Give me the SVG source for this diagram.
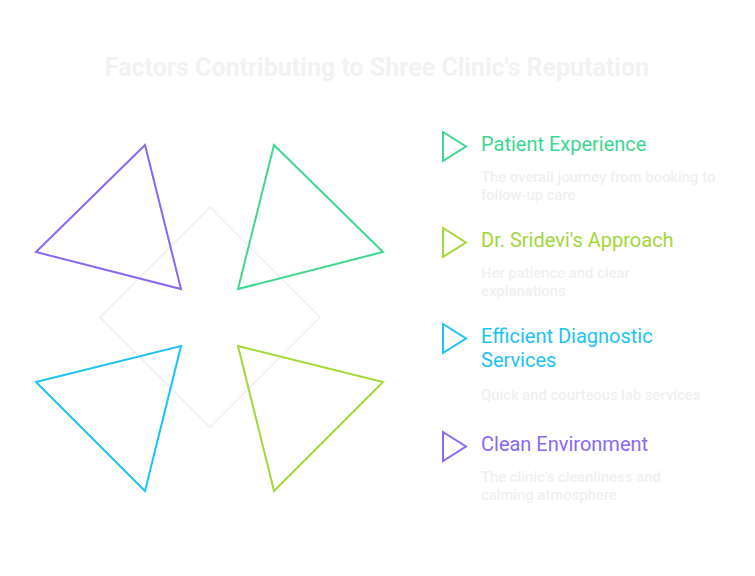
<svg xmlns="http://www.w3.org/2000/svg" width="755" height="576" viewBox="0 0 755 576">
<style>
.title{font-family:Roboto,"Liberation Sans",sans-serif;font-weight:700;font-size:25px;fill:#f2f2f2}
.h{font-family:Roboto,"Liberation Sans",sans-serif;font-size:20px}
.d{font-family:Roboto,"Liberation Sans",sans-serif;font-weight:500;font-size:14.8px;fill:#f0f0f0}
.tri{fill:none;stroke-width:2;stroke-linejoin:miter}
</style>
<rect width="755" height="576" fill="#ffffff"/>
<text class="title" x="377" y="76" text-anchor="middle">Factors Contributing to Shree Clinic's Reputation</text>
<g id="center">
<polygon points="210,207 320,317 210,427 100,317" fill="none" stroke="#eeeeee" stroke-width="1.5"/>
</g>
<g id="shape-purple"><polygon class="tri" stroke="#8a67f5" points="145,145 36,252 181,289"/></g>
<g id="shape-green"><polygon class="tri" stroke="#3ed88e" points="274,145 383,252 238,289"/></g>
<g id="shape-blue"><polygon class="tri" stroke="#1cc3f6" points="36,382 181,346 145,491"/></g>
<g id="shape-lime"><polygon class="tri" stroke="#a2d83a" points="238,346 383,382 274,491"/></g>
<g id="item-patient">
<polygon class="tri" stroke="#3ed88e" points="443,132 466,146.5 443,161"/>
<text class="h" x="481" y="151" fill="#3ed88e">Patient Experience</text>
<text class="d" x="481" y="182">The overall journey from booking to</text>
<text class="d" x="481" y="200">follow-up care</text>
</g>
<g id="item-approach">
<polygon class="tri" stroke="#a2d83a" points="443,228 466,242.5 443,257"/>
<text class="h" x="481" y="247" fill="#a2d83a">Dr. Sridevi's Approach</text>
<text class="d" x="481" y="278">Her patience and clear</text>
<text class="d" x="481" y="296">explanations</text>
</g>
<g id="item-diagnostic">
<polygon class="tri" stroke="#1cc3f6" points="443,324 466,338.5 443,353"/>
<text class="h" x="481" y="343" fill="#1cc3f6">Efficient Diagnostic</text>
<text class="h" x="481" y="367" fill="#1cc3f6">Services</text>
<text class="d" x="481" y="400">Quick and courteous lab services</text>
</g>
<g id="item-clean">
<polygon class="tri" stroke="#8a67f5" points="443,432 466,446.5 443,461"/>
<text class="h" x="481" y="451" fill="#8a67f5">Clean Environment</text>
<text class="d" x="481" y="482">The clinic's cleanliness and</text>
<text class="d" x="481" y="500">calming atmosphere</text>
</g>
</svg>
